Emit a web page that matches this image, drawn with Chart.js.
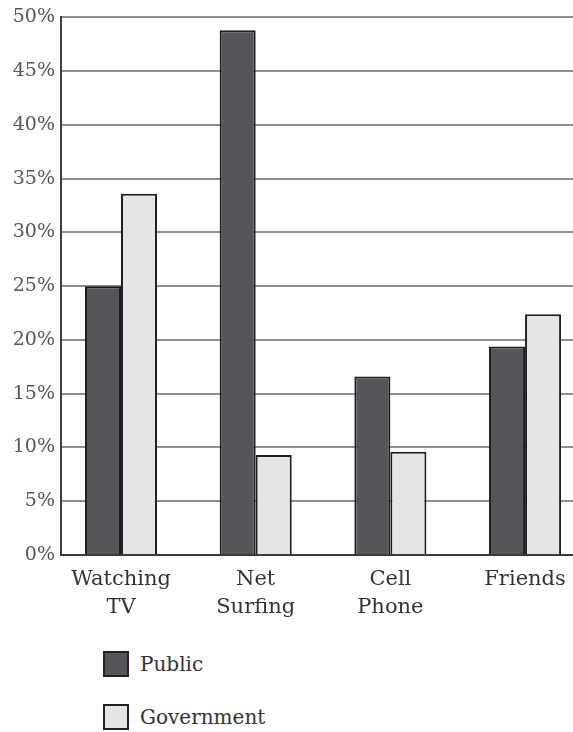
<!DOCTYPE html>
<html>
<head>
<meta charset="utf-8">
<script src="https://cdn.jsdelivr.net/npm/chart.js@4"></script>
<style>
  html, body { margin: 0; padding: 0; background: #fff; overflow: hidden; }
  #wrap { position: relative; width: 573px; height: 732px; }
  #c { position: absolute; left: 0; top: 0; }
  .leg { position: absolute; left: 103px; font-family: "DejaVu Serif", serif; font-size: 20px; color: #333; }
  .leg .sw { position: absolute; left: 0; top: 0; width: 22px; height: 22px; border: 2px solid #222; box-sizing: content-box; }
  .leg .tx { position: absolute; left: 37px; top: 0; line-height: 26px; white-space: nowrap; }
</style>
</head>
<body>
<div id="wrap">
  <canvas id="c" width="573" height="625"></canvas>
  <div id="legend"></div>
</div>
<script>
const categories = [["Watching", "TV"], ["Net", "Surfing"], ["Cell", "Phone"], ["Friends"]];
const seriesNames = ["Public", "Government"];
const publicValues = [25.0, 48.8, 16.6, 19.4];
const governmentValues = [33.6, 9.3, 9.6, 22.4];
const yTicks = [0, 5, 10, 15, 20, 25, 30, 35, 40, 45, 50];
const fills = ["#545659", "#e4e5e7"];

const toPoints = vals => vals.map((v, i) => ({ x: i, y: v }));

const chart = new Chart(document.getElementById("c"), {
  type: "bar",
  data: {
    datasets: [
      { label: seriesNames[0], data: toPoints(publicValues), backgroundColor: fills[0], borderColor: "#1e1e1e", borderWidth: 2, categoryPercentage: 0.535, barPercentage: 1.0 },
      { label: seriesNames[1], data: toPoints(governmentValues), backgroundColor: fills[1], borderColor: "#1e1e1e", borderWidth: 2, categoryPercentage: 0.535, barPercentage: 1.0 }
    ]
  },
  options: {
    responsive: false,
    animation: false,
    layout: { padding: { top: 13, right: 0, bottom: 0, left: 0 } },
    plugins: { legend: { display: false }, tooltip: { enabled: false } },
    scales: {
      x: {
        type: "linear",
        offset: false,
        min: -0.4455,
        max: 3.356,
        afterBuildTicks: s => { s.ticks = categories.map((c, i) => ({ value: i })); },
        afterFit: s => { s.height = 70; },
        grid: { display: false, offset: false },
        border: { display: true, color: "#3a3a3a", width: 2 },
        ticks: {
          autoSkip: false,
          maxRotation: 0,
          padding: 2,
          color: "#333",
          font: { family: "DejaVu Serif", size: 21, lineHeight: 1.34 },
          callback: v => categories[v]
        }
      },
      y: {
        min: 0,
        max: 50,
        afterBuildTicks: s => { s.ticks = yTicks.map(v => ({ value: v })); },
        afterFit: s => { s.width = 61; },
        grid: { color: "#8e8e8e", lineWidth: 2, drawTicks: false },
        border: { display: true, color: "#3a3a3a", width: 2 },
        ticks: {
          padding: 6,
          color: "#555",
          font: { family: "DejaVu Serif", size: 19 },
          callback: v => v + "%"
        }
      }
    }
  }
});

const legendTops = [651, 704];
const legendEl = document.getElementById("legend");
chart.data.datasets.forEach((ds, i) => {
  const item = document.createElement("div");
  item.className = "leg";
  item.style.top = legendTops[i] + "px";
  const sw = document.createElement("div");
  sw.className = "sw";
  sw.style.background = ds.backgroundColor;
  const tx = document.createElement("div");
  tx.className = "tx";
  tx.textContent = ds.label;
  item.appendChild(sw);
  item.appendChild(tx);
  legendEl.appendChild(item);
});
</script>
</body>
</html>
